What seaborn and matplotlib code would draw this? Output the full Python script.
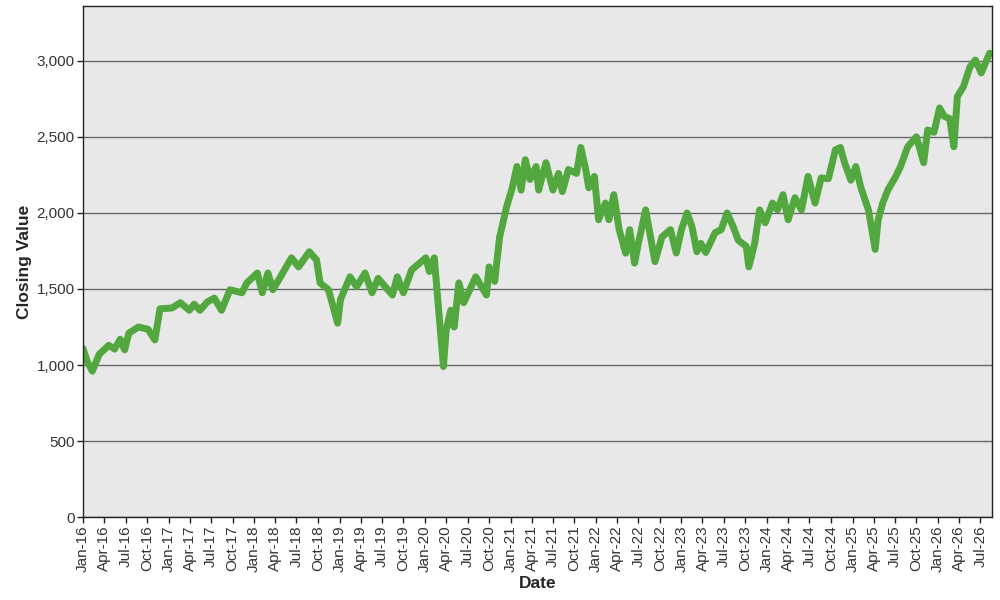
import pandas as pd
import matplotlib
matplotlib.use("Agg")
import matplotlib.pyplot as plt
import matplotlib.dates as mdates
import matplotlib.ticker as mticker
import seaborn as sns

# closing values
dates = [
    "2016-01-01", "2016-01-20", "2016-02-10", "2016-03-10", "2016-04-20", "2016-05-15",
    "2016-06-08", "2016-06-27", "2016-07-15", "2016-08-25", "2016-10-05", "2016-11-03",
    "2016-11-25", "2017-01-15", "2017-02-20", "2017-03-30", "2017-04-20", "2017-05-15",
    "2017-06-15", "2017-07-15", "2017-08-15", "2017-09-20", "2017-11-10", "2017-12-01",
    "2018-01-15", "2018-02-05", "2018-03-01", "2018-03-22", "2018-04-20", "2018-06-10",
    "2018-07-10", "2018-08-25", "2018-09-25", "2018-10-10", "2018-11-15", "2018-12-24",
    "2019-01-05", "2019-02-15", "2019-03-15", "2019-04-20", "2019-05-20", "2019-06-15",
    "2019-08-15", "2019-09-05", "2019-10-01", "2019-11-05", "2020-01-05", "2020-01-20",
    "2020-02-10", "2020-03-20", "2020-04-01", "2020-04-20", "2020-05-05", "2020-05-25",
    "2020-06-15", "2020-08-05", "2020-09-20", "2020-10-01", "2020-10-25", "2020-11-15",
    "2020-12-15", "2021-01-08", "2021-01-28", "2021-02-15", "2021-03-05", "2021-03-25",
    "2021-04-20", "2021-05-01", "2021-06-01", "2021-07-01", "2021-07-25", "2021-08-10",
    "2021-09-05", "2021-10-10", "2021-10-28", "2021-11-18", "2021-12-01", "2021-12-25",
    "2022-01-12", "2022-02-10", "2022-02-25", "2022-03-18", "2022-04-10", "2022-05-08",
    "2022-05-25", "2022-06-15", "2022-07-01", "2022-08-01", "2022-09-10", "2022-10-10",
    "2022-11-15", "2022-12-10", "2023-01-01", "2023-01-25", "2023-02-15", "2023-03-08",
    "2023-03-25", "2023-04-15", "2023-05-25", "2023-06-20", "2023-07-15", "2023-08-10",
    "2023-09-01", "2023-10-05", "2023-10-16", "2023-11-10", "2023-12-01", "2023-12-25",
    "2024-01-25", "2024-02-15", "2024-03-10", "2024-04-01", "2024-04-30", "2024-05-28",
    "2024-06-25", "2024-07-25", "2024-08-20", "2024-09-20", "2024-10-20", "2024-11-10",
    "2024-11-28", "2024-12-25", "2025-01-15", "2025-02-05", "2025-03-10", "2025-04-08",
    "2025-04-20", "2025-05-10", "2025-06-01", "2025-07-05", "2025-07-25", "2025-08-25",
    "2025-10-01", "2025-11-01", "2025-11-18", "2025-12-15", "2026-01-08", "2026-01-28",
    "2026-02-20", "2026-03-10", "2026-03-25", "2026-04-20", "2026-05-18", "2026-06-10",
    "2026-07-05", "2026-08-10",
]
closing = [
    1110, 1020, 960, 1070, 1130, 1105,
    1170, 1100, 1210, 1250, 1235, 1165,
    1370, 1375, 1410, 1360, 1400, 1360,
    1415, 1440, 1360, 1495, 1475, 1540,
    1605, 1475, 1605, 1495, 1570, 1705,
    1645, 1745, 1690, 1540, 1495, 1275,
    1430, 1580, 1515, 1605, 1475, 1570,
    1460, 1580, 1475, 1625, 1705, 1615,
    1705, 990, 1230, 1360, 1250, 1540,
    1410, 1580, 1460, 1645, 1550, 1840,
    2040, 2165, 2305, 2150, 2350, 2220,
    2305, 2150, 2330, 2150, 2260, 2140,
    2285, 2260, 2430, 2285, 2165, 2240,
    1955, 2065, 1955, 2120, 1890, 1735,
    1890, 1670, 1800, 2020, 1680, 1842,
    1890, 1737, 1890, 2000, 1910, 1745,
    1800, 1740, 1870, 1890, 2000, 1910,
    1820, 1780, 1645, 1800, 2020, 1935,
    2065, 2020, 2120, 1955, 2100, 2020,
    2240, 2065, 2230, 2225, 2415, 2430,
    2330, 2215, 2305, 2170, 2020, 1760,
    1950, 2065, 2150, 2240, 2305, 2435,
    2500, 2330, 2545, 2530, 2690, 2635,
    2620, 2435, 2765, 2830, 2960, 3005,
    2920, 3050,
]

df = pd.DataFrame({"Date": pd.to_datetime(dates), "Closing Value": closing})

sns.set_style("whitegrid", {
    "axes.facecolor": "#e8e8e8",
    "axes.edgecolor": "#222222",
    "grid.color": "#666666",
})
plt.rcParams["font.family"] = ["Liberation Sans", "DejaVu Sans"]

fig = plt.figure(figsize=(10, 6), dpi=100)
ax = fig.add_axes([0.083, 0.138, 0.909, 0.852])

sns.lineplot(data=df, x="Date", y="Closing Value", ax=ax,
             color="#52a83f", linewidth=5)

ax.set_xlim(pd.Timestamp("2016-01-01"), pd.Timestamp("2026-08-20"))
ax.set_ylim(0, 3360)
ax.yaxis.set_major_locator(mticker.MultipleLocator(500))
ax.yaxis.set_major_formatter(mticker.StrMethodFormatter("{x:,.0f}"))
ax.xaxis.set_major_locator(mdates.MonthLocator(bymonth=[1, 4, 7, 10]))
ax.xaxis.set_major_formatter(mdates.DateFormatter("%b-%y"))
ax.grid(axis="x", visible=False)
ax.grid(axis="y", linewidth=1.0)

ax.tick_params(axis="both", direction="out", length=4, width=1, color="#222222",
               labelsize=11, labelcolor="#333333", bottom=True, left=True, pad=2)
plt.setp(ax.get_xticklabels(), rotation=90)
for sp in ax.spines.values():
    sp.set_linewidth(1)

ax.set_xlabel("Date", fontsize=12.5, fontweight="bold", labelpad=3)
ax.set_ylabel("Closing Value", fontsize=12.5, fontweight="bold", labelpad=3)

fig.savefig("out.png", dpi=100)
